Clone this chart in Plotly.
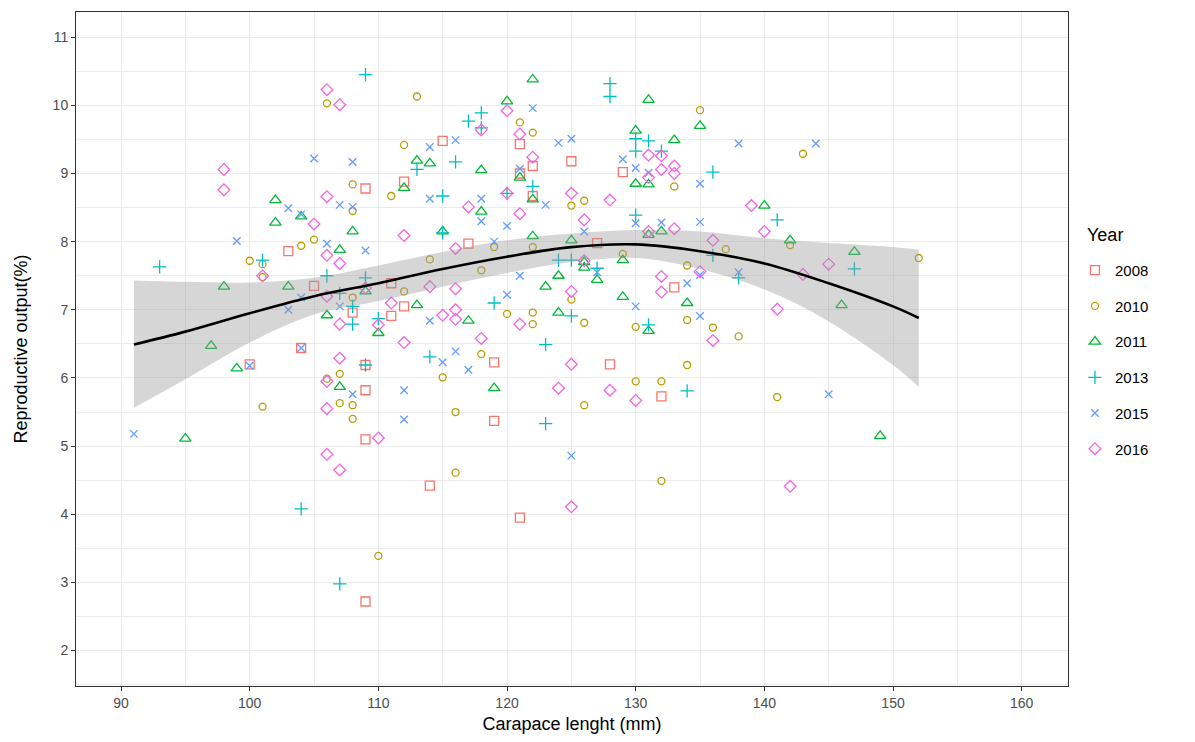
import plotly.graph_objects as go

# ---- data ----
years = ["2008", "2010", "2011", "2013", "2015", "2016"]

x2008 = [103,105,104,100,115,121,122,121,122,109,112,117,111,112,108,111,119,109,109,119,109,114,121,109,125,129,127,133,128,132]
y2008 = [7.86,7.35,6.44,6.20,9.48,9.43,9.11,9.00,8.67,8.78,8.88,7.97,7.39,7.05,6.96,6.91,6.23,6.19,5.82,5.37,5.10,4.42,3.95,2.72,9.18,9.02,7.98,7.33,6.20,5.73]

x2010 = [106,105,104,100,101,101,106,101,113,121,122,112,108,111,108,119,122,114,118,108,112,120,122,122,118,107,115,107,108,108,116,116,110,135,133,125,126,137,129,134,125,126,130,134,136,138,134,130,132,126,141,132,143,142,152]
y2010 = [10.03,8.03,7.94,7.72,7.67,7.48,5.99,5.58,10.13,9.75,9.60,9.42,8.84,8.67,8.45,7.92,7.92,7.74,7.58,7.18,7.27,6.94,6.96,6.79,6.35,6.06,6.01,5.63,5.60,5.40,5.50,4.61,3.39,9.93,8.81,8.53,8.60,7.89,7.82,7.65,7.15,6.81,6.75,6.85,6.74,6.61,6.19,5.95,5.95,5.60,5.72,4.49,9.29,7.95,7.76]

x2011 = [102,104,102,98,103,106,97,99,95,122,120,113,114,118,121,122,112,118,108,115,122,107,109,123,113,110,117,124,107,119,131,135,130,133,130,131,140,131,132,125,129,126,126,127,124,129,134,131,142,147,146,149]
y2011 = [8.61,8.37,8.28,7.34,7.34,6.92,6.47,6.14,5.11,10.38,10.06,9.19,9.15,9.05,8.94,8.62,8.79,8.44,8.15,8.15,8.08,7.88,7.27,7.34,7.07,6.66,6.84,6.96,5.87,5.85,10.08,9.70,9.63,9.49,8.85,8.84,8.53,8.10,8.15,8.02,7.73,7.70,7.62,7.44,7.50,7.19,7.10,6.69,8.02,7.85,7.07,5.15]

x2013 = [93,101,106,104,109,118,117,118,116,113,122,120,115,115,109,107,119,108,108,110,123,114,109,123,107,128,128,130,131,130,132,136,141,130,124,125,127,136,138,125,131,134,147]
y2013 = [7.63,7.73,7.50,4.08,10.45,9.89,9.77,9.67,9.17,9.06,8.81,8.71,8.67,8.13,7.47,7.24,7.10,7.05,6.79,6.87,6.49,6.31,6.19,5.33,2.98,10.32,10.13,9.51,9.48,9.33,9.33,9.02,8.32,8.39,7.73,7.73,7.61,7.80,7.47,6.91,6.78,5.81,7.60]

x2015 = [105,103,104,99,106,104,103,104,100,91,122,114,116,108,121,123,107,108,114,118,118,120,109,119,121,120,107,114,116,115,117,108,112,112,124,125,138,129,130,131,135,130,132,135,126,127,135,138,134,130,135,125,144,145]
y2015 = [9.22,8.49,8.40,8.01,7.97,7.18,7.00,6.44,6.18,5.18,9.96,9.39,9.49,9.17,9.07,8.54,8.54,8.51,8.63,8.63,8.30,8.23,7.87,8.00,7.50,7.22,7.05,6.84,6.39,6.23,6.12,5.76,5.82,5.39,9.45,9.51,9.44,9.21,9.08,9.01,8.85,8.27,8.28,8.29,8.15,7.55,7.51,7.55,7.39,7.05,6.91,4.86,9.44,5.76]

x2016 = [106,98,98,106,105,106,101,106,106,106,106,107,120,118,121,122,120,117,121,112,116,107,114,116,109,111,107,110,115,116,116,121,112,118,107,110,107,131,132,131,132,133,133,125,128,139,126,131,133,140,136,126,135,132,132,125,141,136,125,124,128,130,125,145,143,142]
y2016 = [10.23,9.06,8.76,8.66,8.26,7.80,7.50,7.20,5.95,5.55,4.88,10.01,9.92,9.64,9.58,9.24,8.71,8.51,8.41,8.09,7.90,7.68,7.34,7.31,7.32,7.10,6.79,6.78,6.92,7.00,6.86,6.79,6.52,6.58,6.29,5.12,4.65,9.27,9.26,8.94,9.06,9.11,9.00,8.71,8.61,8.53,8.32,8.15,8.19,8.15,8.02,7.72,7.56,7.49,7.26,7.27,7.01,6.55,6.20,5.85,5.82,5.67,4.11,7.67,7.52,4.41]

# loess smooth and confidence band
fit_x = [91, 95, 100, 105, 110, 115, 120, 125, 130, 135, 140, 145, 150, 152]
fit_y = [6.49, 6.68, 6.95, 7.20, 7.39, 7.60, 7.78, 7.92, 7.96, 7.86, 7.68, 7.39, 7.05, 6.88]
fit_hi = [7.43, 7.41, 7.40, 7.47, 7.65, 7.85, 8.02, 8.12, 8.17, 8.15, 8.05, 7.98, 7.92, 7.88]
fit_lo = [5.56, 5.98, 6.52, 6.93, 7.13, 7.34, 7.54, 7.70, 7.76, 7.60, 7.30, 6.83, 6.19, 5.87]

x_ticks = [90, 100, 110, 120, 130, 140, 150, 160]
y_ticks = [2, 3, 4, 5, 6, 7, 8, 9, 10, 11]

colors = ["#F8766D", "#B79F00", "#00BA38", "#00BFC4", "#619CFF", "#F564E3"]
symbols = ["square-open", "circle-open", "triangle-up-open", "cross-thin-open", "x-thin-open", "diamond-open"]
sizes = [9, 7, 10, 9.5, 7.5, 9]
xs = [x2008, x2010, x2011, x2013, x2015, x2016]
ys = [y2008, y2010, y2011, y2013, y2015, y2016]

FONT = "Liberation Sans, Arial, sans-serif"

fig = go.Figure()
for i, yr in enumerate(years):
    fig.add_trace(go.Scatter(
        x=xs[i], y=ys[i], mode="markers", name=yr, legendgroup=yr,
        marker=dict(symbol=symbols[i], size=sizes[i], color=colors[i],
                    line=dict(color=colors[i], width=1.3)),
    ))

fig.add_trace(go.Scatter(x=fit_x, y=fit_lo, mode="lines", line=dict(width=0, shape="spline"),
                         showlegend=False, hoverinfo="skip"))
fig.add_trace(go.Scatter(x=fit_x, y=fit_hi, mode="lines", line=dict(width=0, shape="spline"),
                         fill="tonexty", fillcolor="rgba(153,153,153,0.4)",
                         showlegend=False, hoverinfo="skip"))
fig.add_trace(go.Scatter(x=fit_x, y=fit_y, mode="lines", line=dict(color="black", width=2.6, shape="spline"),
                         showlegend=False, hoverinfo="skip"))

axis_common = dict(
    showgrid=True, gridcolor="#EBEBEB", gridwidth=1.3,
    showline=True, linecolor="#333333", linewidth=1, mirror=True,
    ticks="outside", ticklen=4, tickcolor="#333333", tickwidth=1,
    tickfont=dict(family=FONT, size=14, color="#4D4D4D"),
    zeroline=False, automargin=False,
)

fig.update_layout(
    width=1179, height=726,
    margin=dict(l=68, r=119, t=4, b=48),
    paper_bgcolor="white", plot_bgcolor="white",
    font=dict(family=FONT),
    xaxis=dict(range=[86.5, 163.6], tickvals=x_ticks,
               minor=dict(dtick=5, tick0=85, showgrid=True, gridcolor="#EBEBEB", gridwidth=0.8, ticks=""),
               title=dict(text="Carapace lenght (mm)", font=dict(family=FONT, size=18, color="black"), standoff=14),
               **axis_common),
    yaxis=dict(range=[1.48, 11.37], tickvals=y_ticks,
               minor=dict(dtick=0.5, tick0=1.5, showgrid=True, gridcolor="#EBEBEB", gridwidth=0.8, ticks=""),
               title=dict(text="Reproductive output(%)", font=dict(family=FONT, size=18, color="black"), standoff=20),
               **axis_common),
    legend=dict(
        x=1.007, y=0.641, xanchor="left", yanchor="top",
        font=dict(family=FONT, size=15, color="black"),
        tracegroupgap=13.2, itemwidth=30,
        bgcolor="rgba(0,0,0,0)",
    ),
    annotations=[dict(text="Year", xref="paper", yref="paper", x=1.017, y=0.669,
                      xanchor="left", yanchor="middle", showarrow=False,
                      font=dict(family=FONT, size=18, color="black"))],
)

fig.write_html("out.html")
